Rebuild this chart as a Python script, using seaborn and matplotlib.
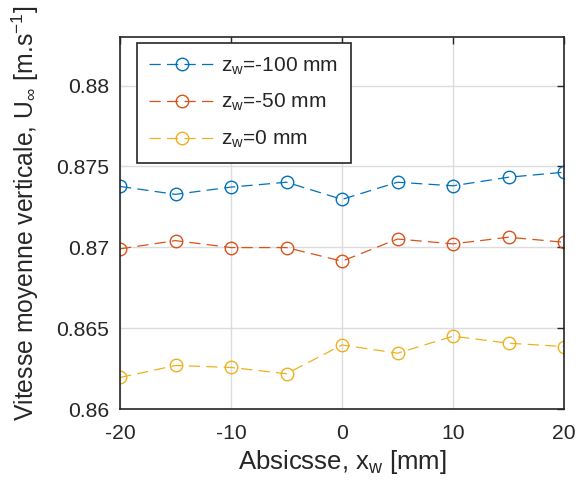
import matplotlib
matplotlib.use("Agg")
import matplotlib.pyplot as plt
import seaborn as sns
import numpy as np

# data
x_pos = [-20, -15, -10, -5, 0, 5, 10, 15, 20]
u_m100 = [0.87376, 0.87327, 0.87372, 0.87402, 0.87296, 0.87402, 0.87380, 0.87433, 0.87464]
u_m50 = [0.86990, 0.87041, 0.86998, 0.86998, 0.86914, 0.87051, 0.87021, 0.87062, 0.87031]
u_0 = [0.86195, 0.86269, 0.86257, 0.86218, 0.86396, 0.86345, 0.86450, 0.86407, 0.86386]
labels = [r'z$_\mathrm{w}$=-100 mm', r'z$_\mathrm{w}$=-50 mm', r'z$_\mathrm{w}$=0 mm']
colors = ['#0072BD', '#D95319', '#EDB120']

sns.set_style("whitegrid")
plt.rcParams['font.family'] = ['Liberation Sans', 'DejaVu Sans']
plt.rcParams['mathtext.fontset'] = 'custom'
plt.rcParams['mathtext.rm'] = 'Liberation Sans'
plt.rcParams['mathtext.it'] = 'Liberation Sans'
plt.rcParams['axes.unicode_minus'] = False

fig = plt.figure(figsize=(5.84, 4.9), dpi=100)
ax = fig.add_axes([0.2055, 0.1653, 0.7603, 0.7592])

for vals, lab, c in zip([u_m100, u_m50, u_0], labels, colors):
    sns.lineplot(x=x_pos, y=vals, ax=ax, color=c, label=lab, linestyle=(0, (9, 5)),
                 marker='o', markersize=9, markerfacecolor='none',
                 markeredgecolor=c, markeredgewidth=1.0, linewidth=0.9)

ax.set_xlim(-20, 20)
ax.set_ylim(0.86, 0.883)
ax.set_xticks([-20, -10, 0, 10, 20])
ax.set_yticks([0.86, 0.865, 0.87, 0.875, 0.88])
ax.set_yticklabels(['0.86', '0.865', '0.87', '0.875', '0.88'])

ax.set_xlabel(r'Absicsse, x$_\mathrm{w}$ [mm]', fontsize=18.5, color='#262626', labelpad=4)
ax.set_ylabel(r'Vitesse moyenne verticale, U$_\infty$ [m.s$^{-1}$]', fontsize=17.8,
              color='#262626', labelpad=11)
ax.yaxis.label.set_y(0.525)
ax.tick_params(axis='both', labelsize=15.2, direction='in', length=5, width=1,
               top=True, right=True, colors='#262626')
ax.tick_params(axis='x', pad=10.5)
ax.tick_params(axis='y', pad=8)

ax.grid(True, color='#dcdcdc', linewidth=1)
for s in ax.spines.values():
    s.set_color('#262626')
    s.set_linewidth(1.2)
ax.set_facecolor('white')

leg = ax.legend(loc='upper left', bbox_to_anchor=(0.038, 0.984), borderaxespad=0,
                fontsize=15, frameon=True, fancybox=False, handlelength=3.1,
                edgecolor='#262626', framealpha=1, borderpad=0.6, labelspacing=0.74,
                handletextpad=0.35)
leg.get_frame().set_linewidth(1.2)

plt.savefig('out.png', dpi=100)
plt.close()
